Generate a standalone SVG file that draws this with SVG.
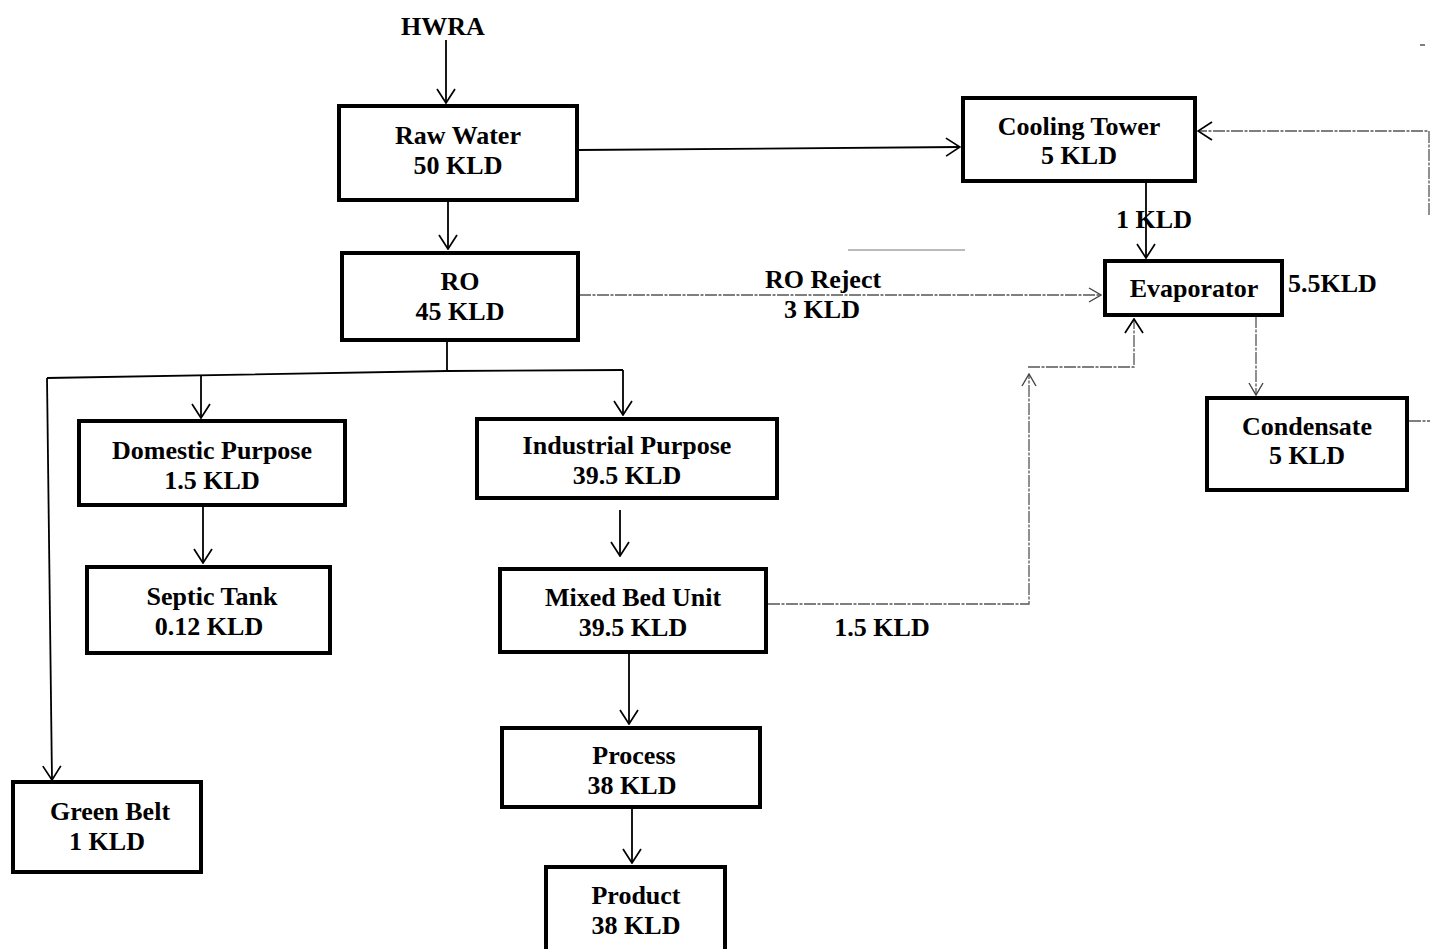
<svg xmlns="http://www.w3.org/2000/svg" width="1430" height="949" viewBox="0 0 1430 949">
<style>
.box{fill:#fff;stroke:#000;stroke-width:4}
.t{font-family:"Liberation Serif","Times New Roman",serif;font-weight:bold;font-size:26px;fill:#000;text-anchor:middle}
.lbl{font-family:"Liberation Serif","Times New Roman",serif;font-weight:bold;font-size:26px;fill:#000}
.c{fill:none;stroke:#000;stroke-width:1.8}
.d{fill:none;stroke:#555;stroke-width:1.3;stroke-dasharray:12 1.5 3 1.5}
</style>
<defs>
<marker id="a" viewBox="0 0 16 20" refX="15" refY="10" markerWidth="16" markerHeight="20" markerUnits="userSpaceOnUse" orient="auto">
<path d="M1,1 L15,10 L1,19" fill="none" stroke="#000" stroke-width="1.7"/>
</marker>
<marker id="ag" viewBox="0 0 14 16" refX="13" refY="8" markerWidth="14" markerHeight="16" markerUnits="userSpaceOnUse" orient="auto">
<path d="M1,1 L13,8 L1,15" fill="none" stroke="#444" stroke-width="1.4"/>
</marker>
</defs>
<rect width="1430" height="949" fill="#fff"/>
<g id="connectors">
<line class="c" x1="446" y1="40" x2="446" y2="103" marker-end="url(#a)"/>
<line class="c" x1="448" y1="201" x2="448" y2="249" marker-end="url(#a)"/>
<line class="c" x1="578" y1="150" x2="960" y2="147" marker-end="url(#a)"/>
<line class="c" x1="1146" y1="182" x2="1146" y2="258" marker-end="url(#a)"/>
<path class="d" d="M579,295 H1101" marker-end="url(#ag)"/>
<path class="d" d="M1256,316 V395" marker-end="url(#ag)"/>
<path class="d" d="M1429,215 V131 H1198" marker-end="url(#a)"/>
<path class="d" d="M1409,421 H1430"/>
<path class="d" d="M768,604 H1029 V374" marker-end="url(#ag)"/>
<path class="d" d="M1028,367 H1134 V319" marker-end="url(#a)"/>
<line class="c" x1="447" y1="341" x2="447" y2="371"/>
<polyline class="c" points="47,378 447,371 623,370"/>
<line class="c" x1="201" y1="375" x2="201" y2="418" marker-end="url(#a)"/>
<line class="c" x1="623" y1="370" x2="623" y2="415" marker-end="url(#a)"/>
<line class="c" x1="47" y1="378" x2="52" y2="780" marker-end="url(#a)"/>
<line class="c" x1="203" y1="506" x2="203" y2="563" marker-end="url(#a)"/>
<line class="c" x1="620" y1="510" x2="620" y2="556" marker-end="url(#a)"/>
<line class="c" x1="629" y1="654" x2="629" y2="724" marker-end="url(#a)"/>
<line class="c" x1="632" y1="808" x2="632" y2="863" marker-end="url(#a)"/>
<line x1="848" y1="250" x2="965" y2="250" stroke="#777" stroke-width="1"/>
<line x1="1420" y1="45" x2="1425" y2="45" stroke="#555" stroke-width="1.5"/>
</g>
<text class="t" x="443" y="35">HWRA</text>
<g id="raw-water"><rect class="box" x="339" y="106" width="238" height="94"/><text class="t" x="458" y="144">Raw Water</text><text class="t" x="458" y="174">50 KLD</text></g>
<g id="ro"><rect class="box" x="342" y="253" width="236" height="87"/><text class="t" x="460" y="290">RO</text><text class="t" x="460" y="320">45 KLD</text></g>
<g id="cooling-tower"><rect class="box" x="963" y="98" width="232" height="83"/><text class="t" x="1079" y="135">Cooling Tower</text><text class="t" x="1079" y="164">5 KLD</text></g>
<g id="evaporator"><rect class="box" x="1105" y="261" width="177" height="54"/><text class="t" x="1194" y="297">Evaporator</text></g>
<g id="condensate"><rect class="box" x="1207" y="398" width="200" height="92"/><text class="t" x="1307" y="435">Condensate</text><text class="t" x="1307" y="464">5 KLD</text></g>
<g id="domestic"><rect class="box" x="79" y="421" width="266" height="84"/><text class="t" x="212" y="459">Domestic Purpose</text><text class="t" x="212" y="489">1.5 KLD</text></g>
<g id="septic"><rect class="box" x="87" y="567" width="243" height="86"/><text class="t" x="212" y="605">Septic Tank</text><text class="t" x="209" y="635">0.12 KLD</text></g>
<g id="green-belt"><rect class="box" x="13" y="782" width="188" height="90"/><text class="t" x="110" y="820">Green Belt</text><text class="t" x="107" y="850">1 KLD</text></g>
<g id="industrial"><rect class="box" x="477" y="419" width="300" height="79"/><text class="t" x="627" y="454">Industrial Purpose</text><text class="t" x="627" y="484">39.5 KLD</text></g>
<g id="mixed-bed"><rect class="box" x="500" y="569" width="266" height="83"/><text class="t" x="633" y="606">Mixed Bed Unit</text><text class="t" x="633" y="636">39.5 KLD</text></g>
<g id="process"><rect class="box" x="502" y="728" width="258" height="79"/><text class="t" x="634" y="764">Process</text><text class="t" x="632" y="794">38 KLD</text></g>
<g id="product"><rect class="box" x="546" y="867" width="179" height="90"/><text class="t" x="636" y="904">Product</text><text class="t" x="636" y="934">38 KLD</text></g>
<g id="labels">
<text class="t" x="823" y="288">RO Reject</text>
<text class="t" x="822" y="318">3 KLD</text>
<text class="t" x="1154" y="228">1 KLD</text>
<text class="lbl" x="1288" y="292">5.5KLD</text>
<text class="t" x="882" y="636">1.5 KLD</text>
</g>
</svg>
